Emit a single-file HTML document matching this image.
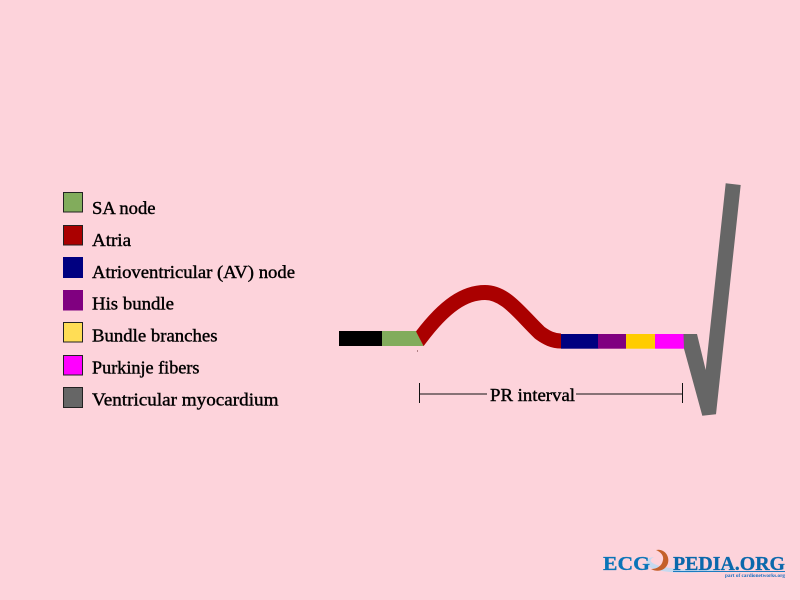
<!DOCTYPE html>
<html>
<head>
<meta charset="utf-8">
<style>
html,body{margin:0;padding:0;background:#fdd3db;}
svg{display:block;}
.t{font-family:"Liberation Serif",serif;font-size:18px;fill:#000;stroke:#000;stroke-width:.4px;}
.l{font-family:"Liberation Serif",serif;font-weight:bold;fill:#0a74b8;stroke:#0a74b8;stroke-width:.3px;}
</style>
</head>
<body>
<svg width="800" height="600" viewBox="0 0 800 600" xmlns="http://www.w3.org/2000/svg">
<defs>
<clipPath id="c"><polygon points="416,331.500 423.500,346 561,360 561,270 416,270"/></clipPath>
</defs>
<rect width="800" height="600" fill="#fdd3db"/>

<g stroke="#222" stroke-width="1">
<rect x="63.5" y="192.5" width="19" height="19.5" fill="#82ac5c"/>
<rect x="63.5" y="225.5" width="19" height="19.5" fill="#aa0000"/>
<rect x="63.5" y="257.5" width="19" height="20" fill="#000080" stroke="#000080"/>
<rect x="63.5" y="290.5" width="19" height="19.5" fill="#800080" stroke="#800080"/>
<rect x="63.5" y="322.5" width="19" height="19.5" fill="#ffdd55"/>
<rect x="63.5" y="355.5" width="19" height="19.5" fill="#ff00ff"/>
<rect x="63.5" y="387.5" width="19" height="20" fill="#666666"/>
</g>

<text class="t" x="92" y="214" textLength="63.5" lengthAdjust="spacingAndGlyphs">SA node</text>
<text class="t" x="92" y="246" textLength="39" lengthAdjust="spacingAndGlyphs">Atria</text>
<text class="t" x="92" y="278" textLength="203" lengthAdjust="spacingAndGlyphs">Atrioventricular (AV) node</text>
<text class="t" x="92" y="309.500" textLength="82" lengthAdjust="spacingAndGlyphs">His bundle</text>
<text class="t" x="92" y="341.500" textLength="125.500" lengthAdjust="spacingAndGlyphs">Bundle branches</text>
<text class="t" x="92" y="373.500" textLength="107.500" lengthAdjust="spacingAndGlyphs">Purkinje fibers</text>
<text class="t" x="92" y="405.500" textLength="186.500" lengthAdjust="spacingAndGlyphs">Ventricular myocardium</text>

<rect x="339" y="331" width="43.500" height="15" fill="#000"/>
<polygon points="382,331 416,331 423.500,346 382,346" fill="#82ac5c"/>
<path d="M412,349 L420,338.500 C445,305 465,292.500 485,292.500 C506,292.500 520,314 540,333 C547,338 553,341 561,341 L570,341" fill="none" stroke="#aa0000" stroke-width="15" clip-path="url(#c)"/>
<rect x="561" y="334" width="37.500" height="14.700" fill="#000080"/>
<rect x="598" y="334" width="28" height="14.700" fill="#800080"/>
<rect x="626" y="334" width="29" height="14.700" fill="#ffcc00"/>
<rect x="655" y="334" width="29" height="14.700" fill="#ff00ff"/>
<polygon points="683.500,334 697,334 705.700,370 725.700,183.300 740.700,185 716,414.300 702.300,415.700 684,348.700" fill="#666666"/>
<rect x="417" y="350.500" width="1" height="1" fill="#663333"/>

<g stroke="#111" stroke-width="1" fill="none">
<path d="M419.500,383 V403"/>
<path d="M419,394 H487"/>
<path d="M576,394 H682"/>
<path d="M682.500,383 V403"/>
</g>
<text class="t" x="490" y="401" textLength="85" lengthAdjust="spacingAndGlyphs">PR interval</text>

<path d="M654,557 C644,558 644,566 654,569 C668,574 705,575 745,565 C715,571 680,571 660,566 C650,563 648,560 654,557 Z" fill="#c5d9ef"/>
<path d="M656,550 C664,548 670,556 668,563 C666,570 658,573 651,569 C657,569 662,566 663,560 C664,556 661,552 656,550 Z" fill="#c4602a"/>
<text class="l" x="603" y="570" font-size="20.500" textLength="47" lengthAdjust="spacingAndGlyphs">ECG</text>
<text class="l" x="673" y="570" font-size="20.500" textLength="112" lengthAdjust="spacingAndGlyphs" style="fill:#0a68ac;stroke:#0a68ac">PEDIA.ORG</text>
<rect x="673" y="571" width="112" height="1" fill="#1b7cc0"/>
<text class="l" x="725" y="577" font-size="5.500" textLength="60" lengthAdjust="spacingAndGlyphs" style="fill:#1a70c0;stroke:none">part of cardionetworks.org</text>
</svg>
</body>
</html>
